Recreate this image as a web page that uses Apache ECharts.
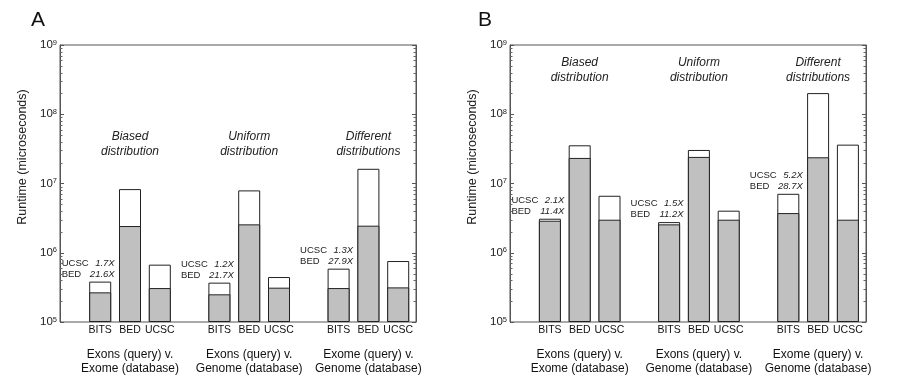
<!DOCTYPE html>
<html><head><meta charset="utf-8">
<script src="https://cdn.jsdelivr.net/npm/echarts@6/dist/echarts.min.js"></script>
<style>html,body{margin:0;padding:0;background:#fff}#c{width:900px;height:383px}</style>
</head><body><div id="c"></div>
<script>
// ---- data ----
const tools = ['BITS', 'BED', 'UCSC'];
const groupLabels = ['Exons (query) v.\nExome (database)', 'Exons (query) v.\nGenome (database)', 'Exome (query) v.\nGenome (database)'];
const distTitles = ['Biased\ndistribution', 'Uniform\ndistribution', 'Different\ndistributions'];
// runtime (microseconds): total bar height and lower (gray) portion, order BITS,BED,UCSC per group
const totalA = [383000, 8300000, 673000, 370000, 7950000, 446000, 589000, 16300000, 759000];
const grayA  = [268000, 2430000, 309000, 251000, 2570000, 313000, 309000, 2460000, 316000];
const totalB = [3100000, 35600000, 6650000, 2770000, 30500000, 4050000, 7100000, 202000000, 36400000];
const grayB  = [2900000, 23400000, 3000000, 2570000, 24200000, 3000000, 3740000, 23900000, 3000000];
const speedupA = [['1.7X', '21.6X'], ['1.2X', '21.7X'], ['1.3X', '27.9X']];
const speedupB = [['2.1X', '11.4X'], ['1.5X', '11.2X'], ['5.2X', '28.7X']];
const panelLetters = ['A', 'B'];
const yTitle = 'Runtime (microseconds)';
const yMin = 1e5, yMax = 1e9;
const majorTicks = [1e5, 1e6, 1e7, 1e8, 1e9];
const minorMultipliers = [2, 3, 4, 5, 6, 7, 8, 9];

// ---- layout ----
const FONT = '"Liberation Sans", Arial, Helvetica, sans-serif';
const frameLeft = [60, 510], frameWidth = 356, gridTop = 45, gridHeight = 277;
const barsLeft = [85.3, 535], barsWidth = 327.8;
const titleMargin = [84.5, 10.5];

const nGroups = 3, nTools = 3;
const slots = [];
for (let g = 0; g < nGroups; g++) {
  for (let t = 0; t < nTools; t++) slots.push({ g, t });
  if (g < nGroups - 1) slots.push(null);
}
const toolCats = slots.map(s => s ? tools[s.t] : '');
const groupCats = slots.map(s => (s && s.t === 1) ? groupLabels[s.g] : '');
const titleCats = slots.map(s => (s && s.t === 1) ? distTitles[s.g] : '');

// minor tick positions (log axis decoration)
const minorTickValues = [];
majorTicks.slice(0, -1).forEach(d => minorMultipliers.forEach(m => minorTickValues.push(d * m)));

const grids = [], xAxes = [], yAxes = [], series = [], graphics = [];
const panels = [
  { total: totalA, gray: grayA, speed: speedupA },
  { total: totalB, gray: grayB, speed: speedupB }
];

function logY(gridIndex, extra) {
  return Object.assign({
    type: 'log', logBase: 10, min: yMin, max: yMax, interval: 1, gridIndex,
    startValue: yMin, show: false
  }, extra || {});
}

panels.forEach((p, pi) => {
  const gFrame = grids.length;
  grids.push({ left: frameLeft[pi], top: gridTop, width: frameWidth, height: gridHeight,
    show: true, borderColor: '#555', borderWidth: 1, backgroundColor: 'transparent' });
  const gBars = grids.length;
  grids.push({ left: barsLeft[pi], top: gridTop, width: barsWidth, height: gridHeight });
  const gLab = grids.length;
  grids.push({ left: barsLeft[pi], top: gridTop, width: barsWidth, height: gridHeight });

  // frame axes
  const xFrame = xAxes.length;
  xAxes.push({ type: 'value', gridIndex: gFrame, min: 0, max: 1, show: false });
  const tickCommon = {
    axisLine: { show: true, lineStyle: { color: '#555', width: 1 } },
    axisTick: { show: true, inside: true, length: 4, lineStyle: { color: '#555' } },
    minorTick: { show: false },
    splitLine: { show: false }
  };
  const yFrame = yAxes.length;
  yAxes.push(logY(gFrame, Object.assign({ show: true, position: 'left',
    axisLabel: {
      show: true, margin: 3,
      formatter: v => '{a|10}{b|' + Math.round(Math.log10(v)) + '}',
      rich: {
        a: { fontSize: 11.5, fontFamily: FONT, color: '#222', lineHeight: 13 },
        b: { fontSize: 7.5, fontFamily: FONT, color: '#222', verticalAlign: 'top', lineHeight: 9 }
      }
    } }, tickCommon)));
  yAxes.push(logY(gFrame, Object.assign({ show: true, position: 'right',
    axisLabel: { show: false } }, tickCommon)));

  // minor ticks on both frame sides
  series.push({ type: 'custom', xAxisIndex: xFrame, yAxisIndex: yFrame, silent: true,
    data: minorTickValues.map(v => [0, v]), encode: { x: 0, y: 1 },
    renderItem: (params, api) => {
      const pt = api.coord([0, api.value(1)]);
      const xr = api.coord([1, api.value(1)])[0];
      const y = Math.round(pt[1]) + 0.5;
      const st = { stroke: '#666', lineWidth: 1 };
      return { type: 'group', children: [
        { type: 'line', shape: { x1: pt[0], y1: y, x2: pt[0] + 2.5, y2: y }, style: st },
        { type: 'line', shape: { x1: xr - 2.5, y1: y, x2: xr, y2: y }, style: st }
      ] };
    } });

  // bars axes
  const xBars = xAxes.length;
  xAxes.push({ type: 'category', gridIndex: gBars, data: toolCats, position: 'bottom',
    axisLine: { show: false }, axisTick: { show: false },
    axisLabel: { interval: 0, margin: 3, fontSize: 10.5, fontFamily: FONT, color: '#111' } });
  xAxes.push({ type: 'category', gridIndex: gBars, data: titleCats, position: 'top',
    axisLine: { show: false }, axisTick: { show: false },
    axisLabel: { interval: 0, inside: true, margin: titleMargin[pi], fontSize: 12, fontStyle: 'italic',
      lineHeight: 14.5, fontFamily: FONT, color: '#222' } });
  const yBars = yAxes.length;
  yAxes.push(logY(gBars));

  // group label axis
  xAxes.push({ type: 'category', gridIndex: gLab, data: groupCats, position: 'bottom',
    axisLine: { show: false }, axisTick: { show: false },
    axisLabel: { interval: 0, margin: 26, fontSize: 12, lineHeight: 13.5, fontFamily: FONT, color: '#111' } });
  yAxes.push(logY(gLab));

  const whiteData = slots.map(s => {
    if (!s) return '-';
    const i = s.g * nTools + s.t;
    const item = { value: p.total[i] };
    if (s.t === 0) {
      const sp = p.speed[s.g];
      item.label = { show: true,
        formatter: '{n|UCSC}{v|' + sp[0] + '}\n{n|BED}{v|' + sp[1] + '}' };
    }
    return item;
  });
  const grayData = slots.map(s => s ? p.gray[s.g * nTools + s.t] : '-');

  series.push({ type: 'bar', xAxisIndex: xBars, yAxisIndex: yBars, data: whiteData,
    barWidth: 22, barGap: '-100%', clip: true, silent: true,
    itemStyle: { color: '#ffffff', borderColor: '#222', borderWidth: 1 },
    label: { show: false, position: 'top', distance: 2, offset: [-12, 0],
      rich: {
        n: { fontSize: 9.5, fontFamily: FONT, color: '#222', width: 26, align: 'left', lineHeight: 11 },
        v: { fontSize: 9.5, fontFamily: FONT, fontStyle: 'italic', color: '#222', width: 27, align: 'right', lineHeight: 11 }
      } } });
  series.push({ type: 'bar', xAxisIndex: xBars, yAxisIndex: yBars, data: grayData,
    barWidth: 22, barGap: '-100%', clip: true, silent: true,
    itemStyle: { color: '#c0c0c0', borderColor: '#222', borderWidth: 1 } });

  graphics.push({ type: 'text', left: 31 + pi * 447, top: 10,
    style: { text: panelLetters[pi], fontSize: 21, fontFamily: FONT, fill: '#111' } });
  graphics.push({ type: 'text', x: 23 + pi * 450, y: 157, rotation: Math.PI / 2,
    style: { text: yTitle, fontSize: 12.5, fontFamily: FONT, fill: '#222', align: 'center', verticalAlign: 'middle' } });
});

const chart = echarts.init(document.getElementById('c'), null, { renderer: 'canvas' });
chart.setOption({
  animation: false,
  backgroundColor: '#fff',
  grid: grids, xAxis: xAxes, yAxis: yAxes, series, graphic: graphics
});
</script></body></html>
